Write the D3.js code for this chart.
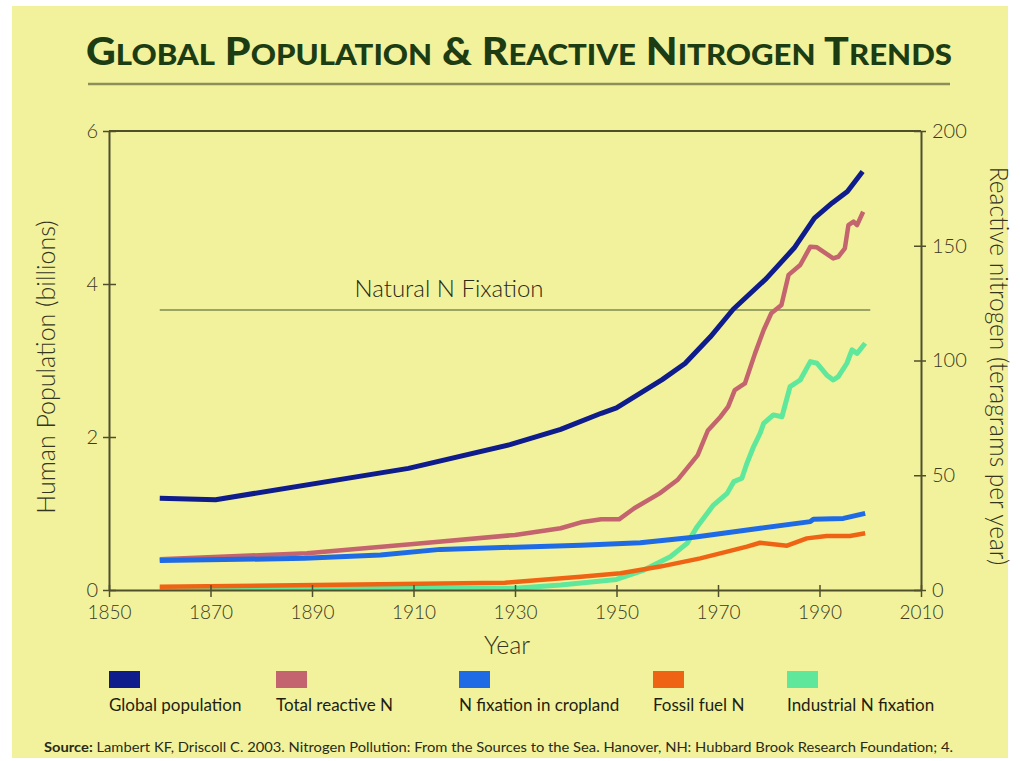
<!DOCTYPE html>
<html>
<head>
<meta charset="utf-8">
<title>Global Population &amp; Reactive Nitrogen Trends</title>
<script src="https://d3js.org/d3.v7.min.js"></script>
<style>
  body { margin: 0; background: #fff; }
  #chart text { font-family: "Lato", "Open Sans", sans-serif; fill: #35351f; }
</style>
</head>
<body>
<svg id="chart" width="1020" height="761"></svg>
<script>
// values: years + values per series
var popYears = [1860, 1871, 1909, 1929, 1939, 1947, 1950, 1959, 1963.5, 1968.5, 1973, 1979.5, 1985, 1989, 1992.5, 1995.5, 1998.5];
var popValues = [1.20, 1.18, 1.59, 1.90, 2.10, 2.31, 2.38, 2.75, 2.96, 3.31, 3.67, 4.07, 4.47, 4.86, 5.06, 5.21, 5.47]; // billions

var totalYears = [1860, 1889, 1910, 1930, 1939, 1943, 1947, 1950.5, 1953.5, 1958.5, 1962, 1966, 1968, 1970.5, 1972, 1973.3, 1975.3, 1977.3, 1979, 1980.5, 1982.5, 1983.2, 1983.9, 1986.2, 1988.2, 1989.5, 1992.7, 1993.7, 1995, 1995.7, 1996.7, 1997.4, 1998.6];
var totalValues = [13.4, 16.0, 20.0, 24.0, 26.9, 29.5, 30.8, 30.8, 35.6, 42.1, 47.9, 58.8, 69.5, 75.5, 79.9, 87.1, 90.0, 103.1, 113.3, 120.6, 124.2, 130.7, 137.3, 141.6, 149.6, 149.3, 144.5, 145.2, 148.9, 159.0, 160.5, 159.0, 164.8]; // Tg N / yr

var cropYears = [1860, 1888.5, 1903.5, 1915.3, 1943, 1954.7, 1965.2, 1978.3, 1988.2, 1988.8, 1994.7, 1999];
var cropValues = [12.8, 13.8, 15.3, 17.7, 19.5, 20.6, 23.0, 26.9, 29.8, 30.8, 31.2, 33.4];

var fossilYears = [1860, 1928, 1943, 1950.8, 1958.6, 1966.5, 1971.8, 1975.7, 1978.3, 1983.6, 1987.5, 1991.4, 1996, 1999];
var fossilValues = [1.4, 3.2, 5.8, 7.3, 10.2, 13.8, 16.7, 18.9, 20.6, 19.3, 22.5, 23.5, 23.5, 24.7];

var industYears = [1860, 1930, 1939, 1950, 1955.4, 1960.6, 1963.9, 1965.9, 1969.1, 1971.8, 1973.1, 1974.7, 1975.7, 1977, 1978.3, 1979, 1980.9, 1982.6, 1984.2, 1986.2, 1988.2, 1989.5, 1991.4, 1992.7, 1993.7, 1995.4, 1996.4, 1997.4, 1999];
var industValues = [0.6, 0.8, 2.2, 4.6, 8.7, 14.5, 20.3, 27.6, 37.0, 42.1, 47.2, 48.7, 55.2, 62.4, 68.3, 72.6, 76.3, 75.5, 88.6, 91.5, 99.5, 98.8, 93.7, 91.5, 93.0, 98.8, 104.6, 103.1, 107.5];

var naturalFixation = 122;          // Tg N / yr, flat reference line
var naturalYears = [1860, 2000];

var xTicks = [1850, 1870, 1890, 1910, 1930, 1950, 1970, 1990, 2010];
var leftTicks = [0, 2, 4, 6];
var rightTicks = [0, 50, 100, 150, 200];

var legendLabels = ["Global population", "Total reactive N", "N fixation in cropland", "Fossil fuel N", "Industrial N fixation"];

// ---- layout / style ----
var colors = ["#0f1c8c", "#c4646e", "#1f6be6", "#ef6414", "#5fe89c"];
var axisColor = "#4f4f2c";

var svg = d3.select("#chart");

svg.append("rect")
    .attr("x", 12).attr("y", 6)
    .attr("width", 996).attr("height", 752)
    .attr("fill", "#f2f29c");

// title in small caps built from tspans
var title = svg.append("text")
    .attr("x", 86).attr("y", 65)
    .attr("textLength", 866)
    .attr("lengthAdjust", "spacingAndGlyphs")
    .style("font-weight", 900)
    .style("fill", "#1c3d14");
["Global", "Population", "&", "Reactive", "Nitrogen", "Trends"].forEach(function(w, i) {
  title.append("tspan").attr("font-size", 37).text((i ? " " : "") + w[0].toUpperCase());
  if (w.length > 1) title.append("tspan").attr("font-size", 28).text(w.slice(1).toUpperCase());
});

svg.append("line")
    .attr("x1", 88).attr("x2", 950)
    .attr("y1", 84).attr("y2", 84)
    .attr("stroke", "#8e8e58")
    .attr("stroke-width", 2.5);

var x = d3.scaleLinear().domain([1850, 2010]).range([109, 921]);
var yL = d3.scaleLinear().domain([0, 6]).range([590, 131]);
var yR = d3.scaleLinear().domain([0, 200]).range([590, 131]);

// natural fixation reference line + label
svg.append("line")
    .attr("x1", x(naturalYears[0])).attr("x2", x(naturalYears[1]))
    .attr("y1", yR(naturalFixation)).attr("y2", yR(naturalFixation))
    .attr("stroke", "#7f8a52")
    .attr("stroke-width", 1.6);
svg.append("text")
    .attr("x", x(1917)).attr("y", yR(naturalFixation) - 13)
    .attr("text-anchor", "middle")
    .attr("font-size", 24)
    .style("font-weight", 300)
    .style("fill", "#2a2a18")
    .text("Natural N Fixation");

// series, drawn bottom to top
var series = [
  { years: industYears, values: industValues, color: colors[4], y: yR, w: 5 },
  { years: fossilYears, values: fossilValues, color: colors[3], y: yR, w: 4.5 },
  { years: totalYears, values: totalValues, color: colors[1], y: yR, w: 4.5 },
  { years: cropYears, values: cropValues, color: colors[2], y: yR, w: 5 },
  { years: popYears, values: popValues, color: colors[0], y: yL, w: 5 }
];

series.forEach(function(s) {
  var line = d3.line()
      .x(function(d) { return x(d[0]); })
      .y(function(d) { return s.y(d[1]); });
  svg.append("path")
      .datum(d3.zip(s.years, s.values))
      .attr("fill", "none")
      .attr("stroke", s.color)
      .attr("stroke-width", s.w)
      .attr("stroke-linejoin", "round")
      .attr("d", line);
});

// axes
function styleAxis(g) {
  g.attr("font-family", null).attr("font-size", null);
  g.select(".domain").attr("stroke", axisColor).attr("stroke-width", 2);
  g.selectAll(".tick line").attr("stroke", axisColor).attr("stroke-width", 1.5);
  g.selectAll(".tick text").attr("font-size", 20).style("font-weight", 300).style("fill", "#3a3a22");
}

svg.append("g")
    .attr("transform", "translate(0,590)")
    .call(d3.axisBottom(x).tickValues(xTicks).tickFormat(d3.format("d")).tickSize(7).tickSizeOuter(0).tickPadding(9))
    .call(styleAxis)
    .call(function(g) {
      g.selectAll(".tick line").attr("y1", -5);
      g.selectAll(".tick text").attr("font-size", 19);
    });

svg.append("g")
    .attr("transform", "translate(109,0)")
    .call(d3.axisLeft(yL).tickValues(leftTicks).tickFormat(d3.format("d")).tickSize(6).tickSizeOuter(0).tickPadding(5))
    .call(styleAxis)
    .call(function(g) { g.selectAll(".tick line").attr("x1", 7); });

svg.append("g")
    .attr("transform", "translate(921,0)")
    .call(d3.axisRight(yR).tickValues(rightTicks).tickFormat(d3.format("d")).tickSize(5).tickSizeOuter(0).tickPadding(6))
    .call(styleAxis)
    .call(function(g) { g.selectAll(".tick line").attr("x1", -7); });

// top frame
svg.append("line")
    .attr("x1", 109).attr("x2", 921)
    .attr("y1", 131).attr("y2", 131)
    .attr("stroke", axisColor)
    .attr("stroke-width", 2);

// axis titles
svg.append("text")
    .attr("transform", "translate(55,367) rotate(-90)")
    .attr("text-anchor", "middle")
    .attr("font-size", 25)
    .style("font-weight", 300)
    .text("Human Population (billions)");

svg.append("text")
    .attr("transform", "translate(990,366) rotate(90)")
    .attr("text-anchor", "middle")
    .attr("font-size", 24.5)
    .style("font-weight", 300)
    .text("Reactive nitrogen (teragrams per year)");

svg.append("text")
    .attr("x", 507).attr("y", 654)
    .attr("text-anchor", "middle")
    .attr("font-size", 25)
    .style("font-weight", 300)
    .text("Year");

// legend
var legendX = [109, 276, 459, 653, 787];
var legend = svg.selectAll(".legend")
    .data(legendLabels)
    .enter().append("g")
      .attr("transform", function(d, i) { return "translate(" + legendX[i] + ",0)"; });
legend.append("rect")
    .attr("y", 671)
    .attr("width", 31)
    .attr("height", 17)
    .attr("fill", function(d, i) { return colors[i]; });
legend.append("text")
    .attr("y", 711)
    .attr("font-size", 17)
    .style("fill", "#1e1e12")
    .text(function(d) { return d; });

// source line
var src = svg.append("text")
    .attr("x", 44).attr("y", 752)
    .attr("font-size", 13.5)
    .attr("textLength", 909)
    .attr("lengthAdjust", "spacingAndGlyphs")
    .style("fill", "#2a2a18");
src.append("tspan").style("font-weight", 700).text("Source:");
src.append("tspan").text(" Lambert KF, Driscoll C. 2003. Nitrogen Pollution: From the Sources to the Sea. Hanover, NH: Hubbard Brook Research Foundation; 4.");
</script>
</body>
</html>
